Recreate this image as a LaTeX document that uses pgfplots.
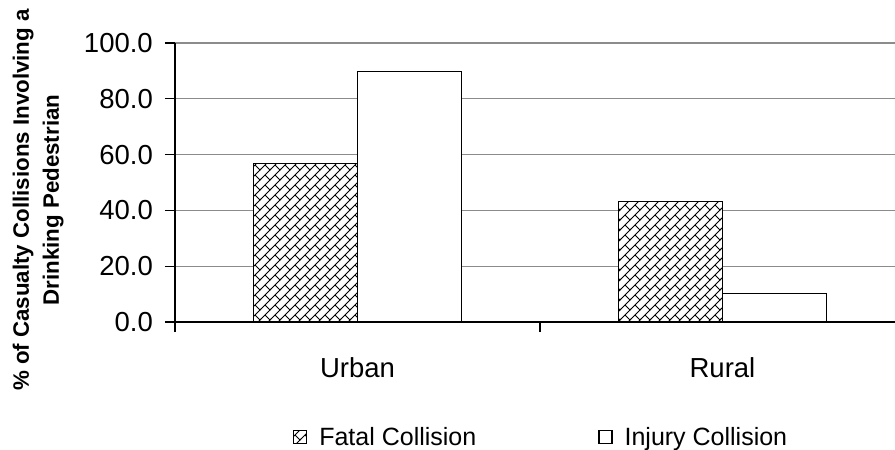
\documentclass[border=0pt]{standalone}
\usepackage{fontspec}
\setmainfont{Liberation Sans}
\usepackage{pgfplots}
\pgfplotsset{compat=1.18}
\usetikzlibrary{patterns}
\pgfdeclarepatternformonly{diagbricks}{\pgfqpoint{-1pt}{-1pt}}{\pgfqpoint{11pt}{11pt}}{\pgfqpoint{10pt}{10pt}}{%
  \pgfsetlinewidth{0.8pt}%
  \pgfpathmoveto{\pgfqpoint{-1pt}{-1pt}}\pgfpathlineto{\pgfqpoint{11pt}{11pt}}%
  \pgfpathmoveto{\pgfqpoint{5pt}{5pt}}\pgfpathlineto{\pgfqpoint{10pt}{0pt}}%
  \pgfusepath{stroke}}
\pgfplotsset{boxlegend/.style={legend image code/.code={\draw[##1, line width=1.3pt] (0pt,-6.5pt) rectangle (13pt,6.5pt);}}}
\begin{document}
\begin{tikzpicture}
\path[use as bounding box] (-175pt,-128pt) rectangle (720pt,322pt);
\begin{axis}[
  at={(0,0)}, anchor=south west,
  scale only axis, width=720pt, height=279pt,
  xmin=-0.5, xmax=1.4726, ymin=0, ymax=100,
  axis lines=left,
  axis line style={-, draw=black, line width=1.3pt},
  ytick={0,20,40,60,80,100},
  ymajorgrids,
  grid style={draw=gray!90, line width=1.3pt},
  tick align=outside,
  major tick length=10pt,
  tick style={draw=black, line width=1.3pt},
  xtick={-0.5,0.5}, xticklabels={},
  extra x ticks={0,1},
  extra x tick labels={Urban,Rural},
  extra x tick style={major tick length=0pt, grid=none,
    xticklabel style={anchor=base, inner sep=0pt, yshift=-55pt}},
  /pgf/number format/fixed,
  /pgf/number format/fixed zerofill,
  /pgf/number format/precision=1,
  /pgf/number format/assume math mode=true,
  yticklabel style={anchor=east, inner sep=0pt, xshift=-12pt},
  tick label style={font=\fontsize{27.5}{30}\selectfont},
  legend columns=2,
  legend style={at={(axis description cs:0.1639,-0.412)}, anchor=west,
    draw=none, fill=none, inner sep=0pt, outer sep=0pt,
    font=\fontsize{25}{28}\selectfont,
    nodes={inner sep=0pt},
    /tikz/every odd column/.append style={column sep=12pt},
    /tikz/every even column/.append style={column sep=122pt}},
  clip=false,
]
\addplot[ybar, bar width=104pt, bar shift=-52pt, draw=black, line width=1.3pt, fill=white, postaction={pattern=diagbricks}, boxlegend]
  coordinates {(0,56.8) (1,43.2)};
\addlegendentry{Fatal Collision}
\addplot[ybar, bar width=104pt, bar shift=52pt, draw=black, line width=1.3pt, fill=white, boxlegend]
  coordinates {(0,89.9) (1,10.1)};
\addlegendentry{Injury Collision}
\end{axis}
\node[rotate=90, anchor=base, inner sep=0pt, font=\bfseries\fontsize{22.3}{26}\selectfont] at (-146pt,122pt) {\% of Casualty Collisions Involving a};
\node[rotate=90, anchor=base, inner sep=0pt, font=\bfseries\fontsize{22.3}{26}\selectfont] at (-116pt,122pt) {Drinking Pedestrian};
\end{tikzpicture}
\end{document}
